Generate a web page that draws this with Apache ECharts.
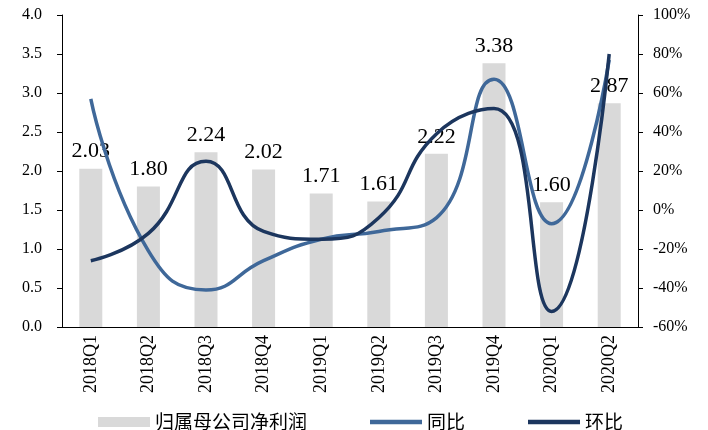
<!DOCTYPE html>
<html>
<head>
<meta charset="utf-8">
<script src="https://cdn.jsdelivr.net/npm/echarts@6/dist/echarts.min.js"></script>
<style>
  html, body { margin: 0; padding: 0; background: #fff; }
  #main { width: 708px; height: 430px; }
</style>
</head>
<body>
<div id="main"></div>
<script>
// 季度
const quarters = ['2018Q1', '2018Q2', '2018Q3', '2018Q4', '2019Q1', '2019Q2', '2019Q3', '2019Q4', '2020Q1', '2020Q2'];
// 归属母公司净利润（亿元）
const netProfit = [2.03, 1.80, 2.24, 2.02, 1.71, 1.61, 2.22, 3.38, 1.60, 2.87];
// 同比 (%)
const yoy = [57, -21, -41, -26, -15, -11, -4, 67, -7, 77];
// 环比 (%)
const qoq = [-26, -12, 25, -11, -15, -4, 39, 52, -52, 80];

const serif = '"Liberation Serif", "Times New Roman", serif';
const cjk = '"Noto Sans CJK SC", sans-serif';
// 图例里的线段
const lineIcon = 'path://M0 0H104V9H0Z';

let chart = echarts.init(document.getElementById('main'));

let option = {
  animation: false,
  grid: {
    left: 62,
    right: 70,
    top: 15,
    bottom: 103
  },
  legend: {
    left: 93,
    top: 406,
    itemWidth: 52,
    itemHeight: 10,
    itemGap: 63,
    textStyle: {
      fontFamily: cjk,
      fontSize: 19,
      lineHeight: 22,
      color: '#000'
    },
    data: [
      {name: '归属母公司净利润', icon: 'rect'},
      {name: '同比', icon: lineIcon},
      {name: '环比', icon: lineIcon}
    ]
  },
  xAxis: {
    type: 'category',
    data: quarters,
    axisLine: {lineStyle: {color: '#000', width: 1}},
    axisTick: {alignWithLabel: true, length: 5, lineStyle: {color: '#000'}},
    axisLabel: {
      rotate: 90,
      margin: 8,
      color: '#000',
      fontFamily: serif,
      fontSize: 18
    }
  },
  yAxis: [
    {
      type: 'value',
      min: 0,
      max: 4,
      interval: 0.5,
      axisLine: {show: true, lineStyle: {color: '#000'}},
      axisTick: {show: true, length: 5, lineStyle: {color: '#000'}},
      splitLine: {show: false},
      axisLabel: {
        margin: 20,
        color: '#000',
        fontFamily: serif,
        fontSize: 16,
        formatter: v => v.toFixed(1)
      }
    },
    {
      type: 'value',
      min: -60,
      max: 100,
      interval: 20,
      axisLine: {show: true, lineStyle: {color: '#000'}},
      axisTick: {show: true, length: 5, lineStyle: {color: '#000'}},
      splitLine: {show: false},
      axisLabel: {
        margin: 15,
        color: '#000',
        fontFamily: serif,
        fontSize: 16,
        formatter: v => v + '%'
      }
    }
  ],
  series: [
    {
      name: '归属母公司净利润',
      type: 'bar',
      barWidth: 23,
      z: 1,
      itemStyle: {color: '#d9d9d9'},
      label: {
        show: true,
        position: 'top',
        distance: 6,
        color: '#000',
        fontFamily: serif,
        fontSize: 22,
        formatter: p => p.value.toFixed(2)
      },
      data: netProfit
    },
    {
      name: '同比',
      type: 'line',
      yAxisIndex: 1,
      smooth: 0.5,
      symbol: 'none',
      z: 3,
      itemStyle: {color: '#3f6899'},
      lineStyle: {color: '#3f6899', width: 3.5},
      data: yoy
    },
    {
      name: '环比',
      type: 'line',
      yAxisIndex: 1,
      smooth: 0.5,
      symbol: 'none',
      z: 4,
      itemStyle: {color: '#1c365e'},
      lineStyle: {color: '#1c365e', width: 3.5},
      data: qoq
    }
  ]
};

chart.setOption(option);
</script>
</body>
</html>
